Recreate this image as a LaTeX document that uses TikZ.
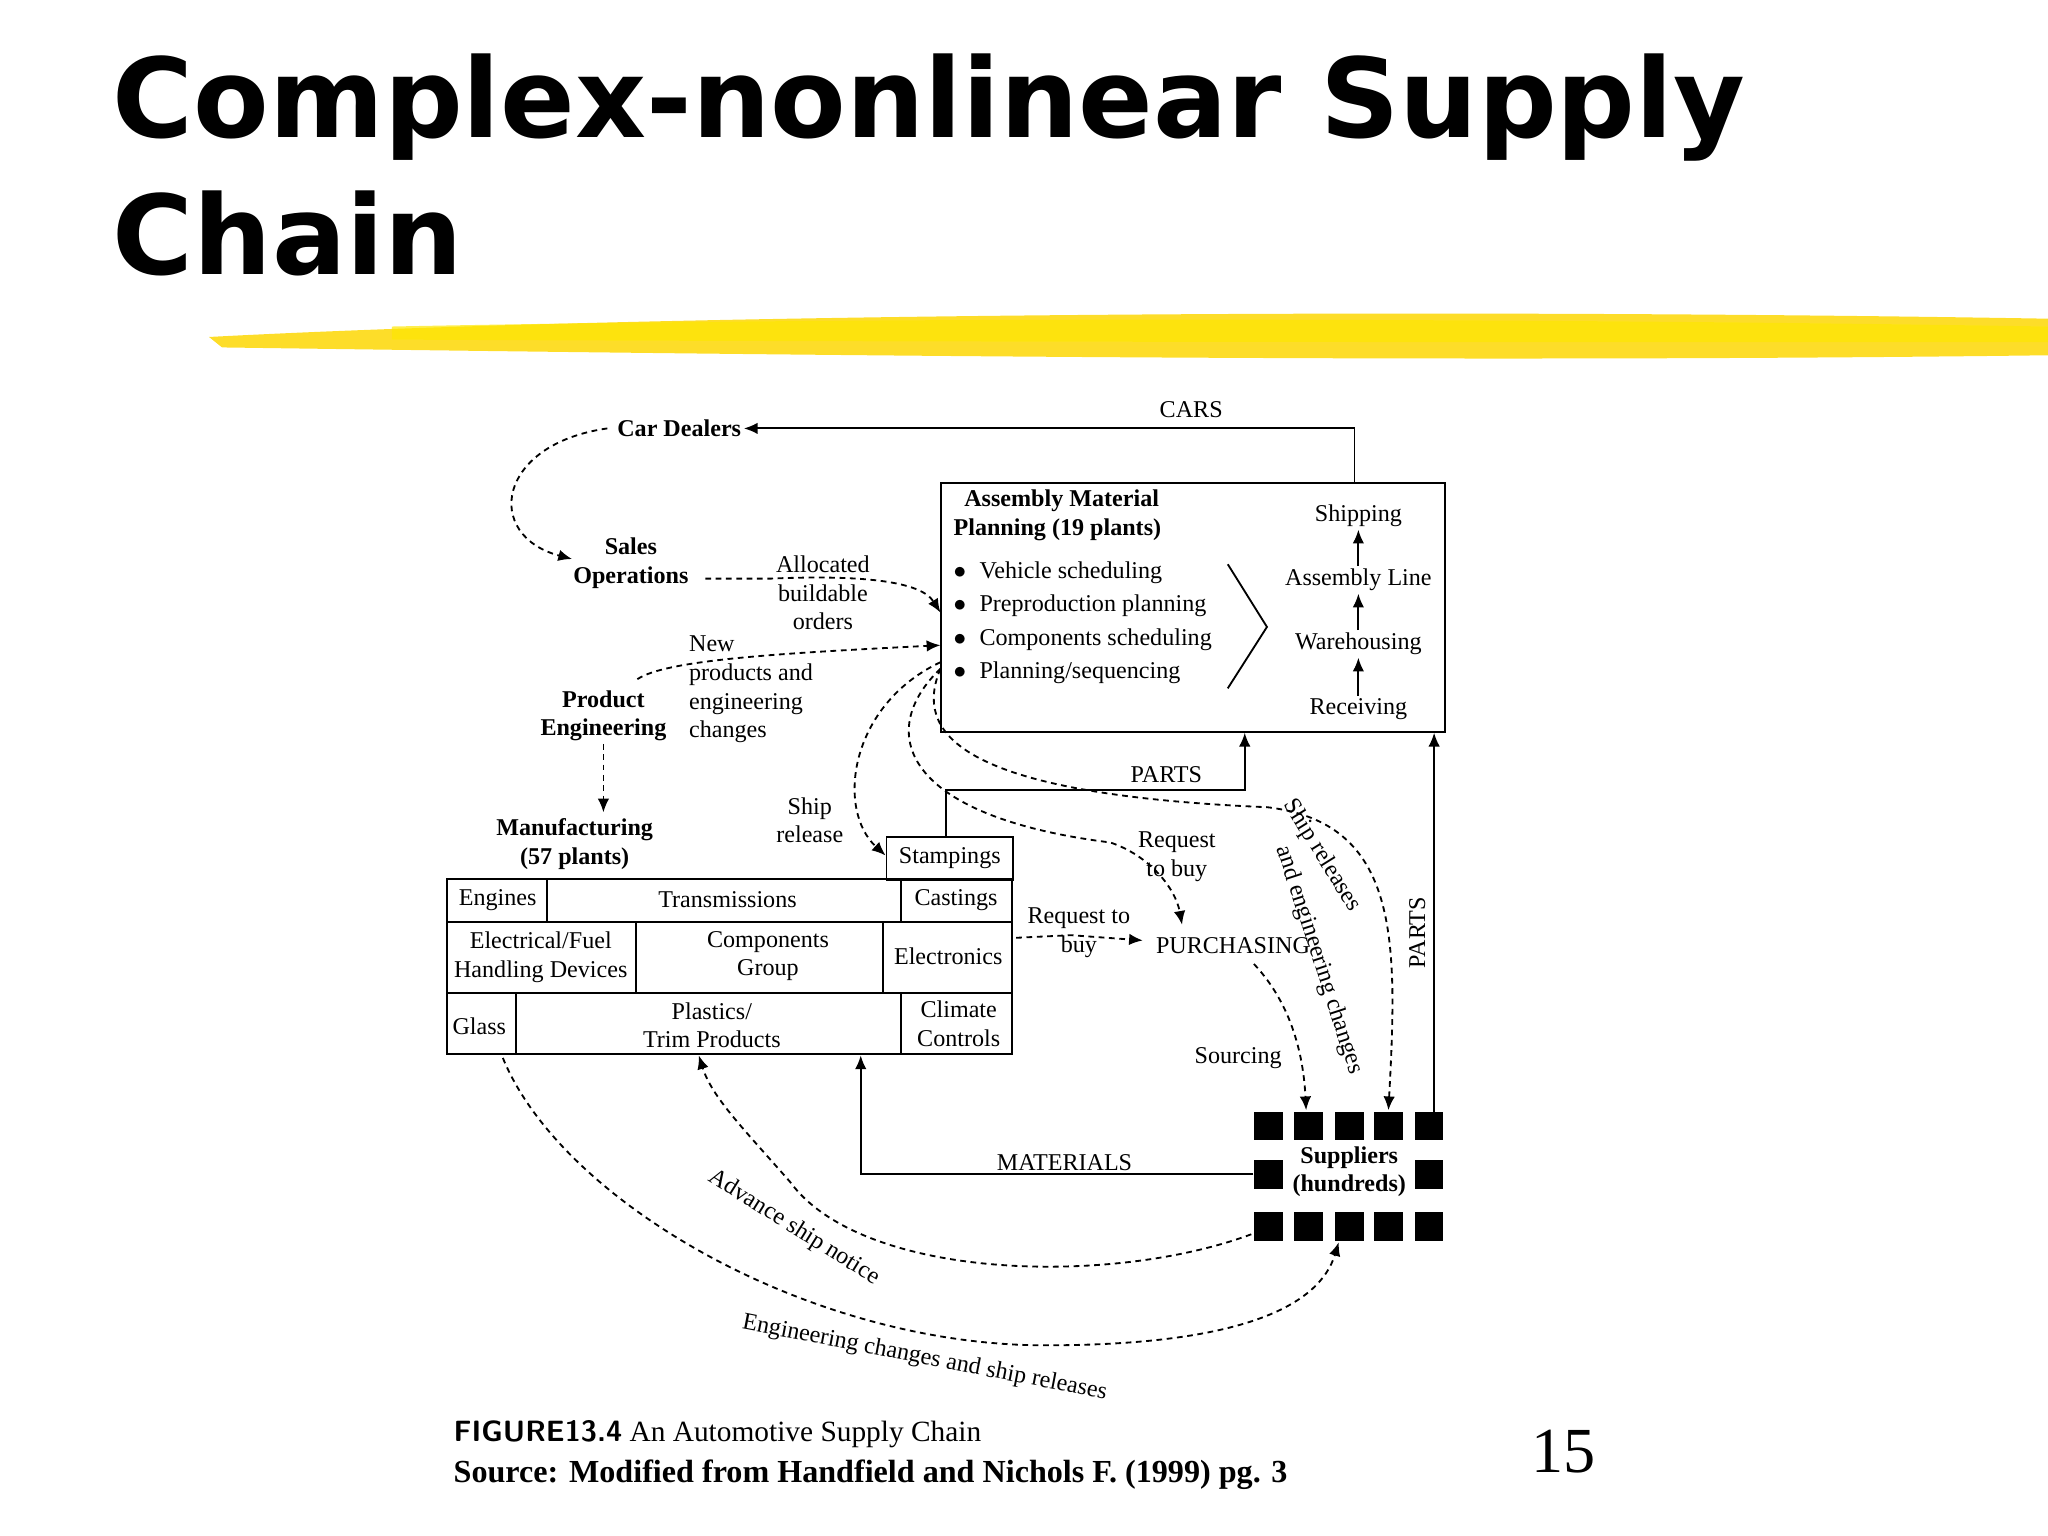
\documentclass[tikz,border=0pt]{standalone}
\usepackage{fontspec}
\setmainfont{Liberation Serif}
\newfontfamily\titlefont{DejaVu Sans}
\usetikzlibrary{arrows.meta}
\begin{document}
\begin{tikzpicture}[x=0.02cm,y=-0.02cm,
  lbl/.style={font=\fontsize{10.5}{12.5}\selectfont,inner sep=1pt,align=center},
  bl/.style={lbl,font=\fontsize{10.5}{12.5}\selectfont\bfseries},
  ln/.style={line width=0.8pt},
  ar/.style={ln,-{Latex[length=6pt,width=5pt]}},
  da/.style={ln,dashed,dash pattern=on 2.5pt off 2pt,-{Latex[length=6pt,width=5pt]}},
  sq/.style={fill=black,minimum size=0.44cm,inner sep=0pt}]
\useasboundingbox (0,0) rectangle (1568,1176);
% title
\node[anchor=base west,inner sep=0,font=\titlefont\bfseries\fontsize{48}{54}\selectfont] (t1) at (86,105) {Complex-nonlinear Supply};
\node[anchor=base west,inner sep=0,font=\titlefont\bfseries\fontsize{48}{54}\selectfont] (t2) at (86,210) {Chain};
% yellow stroke
\fill[yellow!75!orange,opacity=0.85] (160,258) .. controls (500,240) and (1100,236) .. (1568,244) -- (1568,272) .. controls (1100,278) and (600,272) .. (170,266) -- cycle;
\fill[yellow!90!orange,opacity=0.7] (300,250) .. controls (700,242) and (1200,244) .. (1568,250) -- (1568,262) .. controls (1200,262) and (700,262) .. (300,260) -- cycle;
% car dealers & cars
\node[bl] (cd) at (520,328) {Car Dealers};
\node[lbl] (cars) at (912,314) {CARS};
\draw[ar] (1037,369) -- (1037,328) -- (cd.east);
% AMP box
\node[draw,ln,minimum width=7.72cm,minimum height=3.82cm,anchor=north west,inner sep=0] (amp) at (720,369) {};
\node[bl,align=left,anchor=north west] (ampt) at (728,373) {\;\,Assembly Material\\Planning (19 plants)};
\node[lbl,align=left,anchor=north west,font=\fontsize{10.5}{14.5}\selectfont] (list) at (728,428) {$\bullet$\;\;Vehicle scheduling\\$\bullet$\;\;Preproduction planning\\$\bullet$\;\;Components scheduling\\$\bullet$\;\;Planning/sequencing};
\draw[ln] (940,432) -- (970,480) -- (940,527);
\node[lbl] (ship) at (1040,395) {Shipping};
\node[lbl] (asl) at (1040,444) {Assembly Line};
\node[lbl] (wh) at (1040,493) {Warehousing};
\node[lbl] (rec) at (1040,543) {Receiving};
\draw[ar] (rec) -- (wh); \draw[ar] (wh) -- (asl); \draw[ar] (asl) -- (ship);
% left labels
\node[bl] (sales) at (483,431) {Sales\\Operations};
\node[lbl] (alloc) at (630,454) {Allocated\\buildable\\orders};
\node[lbl,align=left] (newp) at (575,528) {New\\products and\\engineering\\changes};
\node[bl] (pe) at (462,548) {Product\\Engineering};
\node[bl] (mfg) at (440,646) {Manufacturing\\(57 plants)};
\node[lbl] (shr) at (620,628) {Ship\\release};
% grid
\node[draw,ln,minimum width=1.94cm,minimum height=0.66cm,anchor=north west,inner sep=0,lbl] (stamp) at (678,640) {Stampings};
\draw[ln] (342,673) rectangle (775,807);
\draw[ln] (342,706) -- (775,706) (342,760) -- (775,760);
\draw[ln] (419,673) -- (419,706) (690,673) -- (690,706) (487,706) -- (487,760) (676,706) -- (676,760) (395,760) -- (395,807) (690,760) -- (690,807);
\node[lbl] (eng) at (381,689) {Engines};
\node[lbl] (trans) at (557,689) {Transmissions};
\node[lbl] (cast) at (732,689) {Castings};
\node[lbl] (elec) at (414,733) {Electrical/Fuel\\Handling Devices};
\node[lbl] (comp) at (588,732) {Components\\Group};
\node[lbl] (etr) at (726,732) {Electronics};
\node[lbl] (glass) at (367,786) {Glass};
\node[lbl] (plas) at (545,785) {Plastics/\\Trim Products};
\node[lbl] (clim) at (734,784) {Climate\\Controls};
\coordinate (gridL) at (385,810);
% purchasing
\node[lbl] (rtb1) at (901,656) {Request\\to buy};
\node[lbl] (rtb2) at (826,714) {Request to\\buy};
\node[lbl] (pur) at (944,724) {PURCHASING};
\node[lbl] (src) at (948,810) {Sourcing};
% parts
\node[lbl] (parts1) at (893,593) {PARTS};
\draw[ar] (724,640) -- (724,605) -- (953,605) -- (953,561);
\node[lbl,rotate=90] (parts2) at (1085,714) {PARTS};
\draw[ar] (1098,851) -- (1098,561);
% suppliers
\foreach \x/\n in {971/a,1002/b,1033/c,1063/d,1094/e}{
  \node[sq] (top\n) at (\x,862) {};
  \node[sq] (bot\n) at (\x,939) {};}
\node[sq] (ml) at (971,899) {};
\node[sq] (mr) at (1094,899) {};
\node[bl] (sup) at (1033,897) {Suppliers\\(hundreds)};
% materials
\node[lbl] (mat) at (815,890) {MATERIALS};
\draw[ar] (ml.west) -- (659,899) -- (659,808);
% dashed
\draw[da] (465,328) .. controls (380,340) and (370,410) .. (438,428);
\draw[da] (540,443) -- (590,443) .. controls (660,440) and (705,445) .. (720,469);
\draw[da] (488,520) .. controls (510,505) and (600,500) .. (720,494);
\draw[da] (pe.south) -- (462,622);
\draw[da] (720,507) .. controls (650,540) and (640,620) .. (678,655);
\draw[da] (720,512) .. controls (670,560) and (690,625) .. (850,645) .. controls (880,655) and (900,680) .. (905,708);
\draw[da] (720,512) .. controls (700,560) and (730,608) .. (970,618) .. controls (1072,630) and (1070,720) .. (1063,850);
\draw[da] (778,718) -- (820,716) -- (875,720);
\draw[da] (960,738) .. controls (990,770) and (998,810) .. (1000,850);
\draw[da] (958,945) .. controls (850,985) and (660,980) .. (605,905) .. controls (570,865) and (545,840) .. (535,808);
\draw[da] (gridL) .. controls (430,920) and (620,1030) .. (800,1030) .. controls (950,1030) and (1010,1000) .. (1025,951);
\node[lbl,rotate=-32] (asn) at (608,940) {Advance ship notice};
\node[lbl,rotate=-11] (ecs) at (708,1040) {Engineering changes and ship releases};
\node[lbl,rotate=-58] (shrel) at (1012,655) {Ship releases};
\node[lbl,rotate=-72] (aec) at (1010,735) {and engineering changes};
% caption
\node[anchor=base west,inner sep=0,font=\fontsize{12.8}{14}\selectfont] (cap1) at (347,1104) {{\sffamily\bfseries FIGURE13.4} An Automotive Supply Chain};
\node[anchor=base west,inner sep=0,font=\fontsize{14}{16}\selectfont\bfseries] (cap2) at (347,1135) {Source: Modified from Handfield and Nichols F. (1999) pg. 3};
\node[anchor=base,inner sep=0,font=\fontsize{28}{30}\selectfont] (pg) at (1197,1127) {15};
\end{tikzpicture}
\end{document}
